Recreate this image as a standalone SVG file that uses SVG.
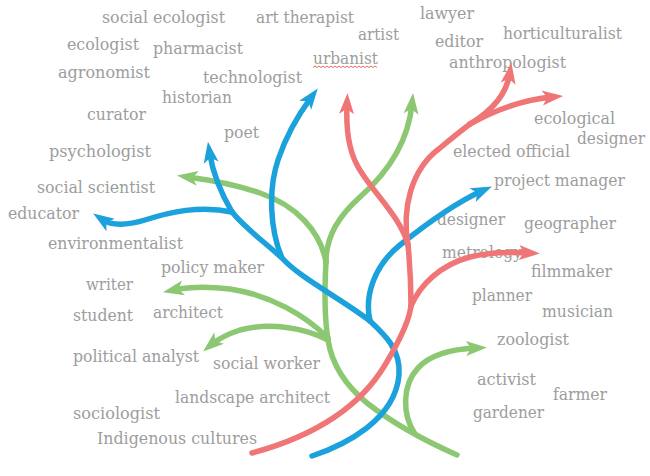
<svg xmlns="http://www.w3.org/2000/svg" width="650" height="476" viewBox="0 0 650 476">
<style>
text{font-family:"DejaVu Serif Condensed","DejaVu Serif",serif;font-size:16px;fill:#9d9d9d}
.ln{fill:none;stroke-width:5.5;stroke-linecap:round;stroke-linejoin:round}
.b{stroke:#1ba1db}.r{stroke:#f07577}.g{stroke:#8cc872}
</style>
<defs>
<marker id="ab" viewBox="-12 -12 24 24" markerWidth="24" markerHeight="24" refX="0" refY="0" orient="auto" markerUnits="userSpaceOnUse"><path d="M11,0 L-10,-7.5 L-5,0 L-10,7.5 Z" fill="#1ba1db"/></marker>
<marker id="ar" viewBox="-12 -12 24 24" markerWidth="24" markerHeight="24" refX="0" refY="0" orient="auto" markerUnits="userSpaceOnUse"><path d="M11,0 L-10,-7.5 L-5,0 L-10,7.5 Z" fill="#f07577"/></marker>
<marker id="ag" viewBox="-12 -12 24 24" markerWidth="24" markerHeight="24" refX="0" refY="0" orient="auto" markerUnits="userSpaceOnUse"><path d="M11,0 L-10,-7.5 L-5,0 L-10,7.5 Z" fill="#8cc872"/></marker>
</defs>
<g id="labels">
<text id="t-social-ecologist" x="102" y="23" textLength="123" lengthAdjust="spacingAndGlyphs">social ecologist</text>
<text id="t-art-therapist" x="256" y="23" textLength="98" lengthAdjust="spacingAndGlyphs">art therapist</text>
<text id="t-lawyer" x="420" y="19" textLength="54" lengthAdjust="spacingAndGlyphs">lawyer</text>
<text id="t-artist" x="358" y="40" textLength="41" lengthAdjust="spacingAndGlyphs">artist</text>
<text id="t-editor" x="435" y="47" textLength="48" lengthAdjust="spacingAndGlyphs">editor</text>
<text id="t-horticulturalist" x="503" y="39" textLength="119" lengthAdjust="spacingAndGlyphs">horticulturalist</text>
<text id="t-ecologist" x="67" y="50" textLength="72" lengthAdjust="spacingAndGlyphs">ecologist</text>
<text id="t-pharmacist" x="153" y="54" textLength="90" lengthAdjust="spacingAndGlyphs">pharmacist</text>
<text id="t-urbanist" x="313" y="64" textLength="65" lengthAdjust="spacingAndGlyphs">urbanist</text>
<path id="spell" d="M313,67.5 l2,-1.5 l2,1.5 l2,-1.5 l2,1.5 l2,-1.5 l2,1.5 l2,-1.5 l2,1.5 l2,-1.5 l2,1.5 l2,-1.5 l2,1.5 l2,-1.5 l2,1.5 l2,-1.5 l2,1.5 l2,-1.5 l2,1.5 l2,-1.5 l2,1.5 l2,-1.5 l2,1.5 l2,-1.5 l2,1.5 l2,-1.5 l2,1.5 l2,-1.5 l2,1.5 l2,-1.5 l2,1.5 l2,-1.5 l2,1.5" fill="none" stroke="#e8453c" stroke-width="0.8"/>
<text id="t-anthropologist" x="449" y="68" textLength="117" lengthAdjust="spacingAndGlyphs">anthropologist</text>
<text id="t-agronomist" x="58" y="78" textLength="92" lengthAdjust="spacingAndGlyphs">agronomist</text>
<text id="t-technologist" x="203" y="83" textLength="99" lengthAdjust="spacingAndGlyphs">technologist</text>
<text id="t-historian" x="162" y="103" textLength="70" lengthAdjust="spacingAndGlyphs">historian</text>
<text id="t-curator" x="87" y="120" textLength="59" lengthAdjust="spacingAndGlyphs">curator</text>
<text id="t-ecological" x="534" y="124" textLength="81" lengthAdjust="spacingAndGlyphs">ecological</text>
<text id="t-designer-2" x="577" y="144" textLength="68" lengthAdjust="spacingAndGlyphs">designer</text>
<text id="t-poet" x="224" y="138" textLength="35" lengthAdjust="spacingAndGlyphs">poet</text>
<text id="t-psychologist" x="49" y="157" textLength="102" lengthAdjust="spacingAndGlyphs">psychologist</text>
<text id="t-elected-official" x="453" y="157" textLength="117" lengthAdjust="spacingAndGlyphs">elected official</text>
<text id="t-project-manager" x="494" y="186" textLength="131" lengthAdjust="spacingAndGlyphs">project manager</text>
<text id="t-social-scientist" x="37" y="193" textLength="118" lengthAdjust="spacingAndGlyphs">social scientist</text>
<text id="t-educator" x="8" y="219" textLength="71" lengthAdjust="spacingAndGlyphs">educator</text>
<text id="t-designer" x="437" y="225" textLength="68" lengthAdjust="spacingAndGlyphs">designer</text>
<text id="t-geographer" x="524" y="229" textLength="92" lengthAdjust="spacingAndGlyphs">geographer</text>
<text id="t-environmentalist" x="48" y="249" textLength="135" lengthAdjust="spacingAndGlyphs">environmentalist</text>
<text id="t-metrology" x="442" y="258" textLength="80" lengthAdjust="spacingAndGlyphs">metrology</text>
<text id="t-policy-maker" x="161" y="273" textLength="103" lengthAdjust="spacingAndGlyphs">policy maker</text>
<text id="t-filmmaker" x="531" y="277" textLength="81" lengthAdjust="spacingAndGlyphs">filmmaker</text>
<text id="t-writer" x="86" y="290" textLength="47" lengthAdjust="spacingAndGlyphs">writer</text>
<text id="t-planner" x="472" y="301" textLength="60" lengthAdjust="spacingAndGlyphs">planner</text>
<text id="t-student" x="73" y="321" textLength="60" lengthAdjust="spacingAndGlyphs">student</text>
<text id="t-architect" x="153" y="318" textLength="70" lengthAdjust="spacingAndGlyphs">architect</text>
<text id="t-musician" x="542" y="317" textLength="71" lengthAdjust="spacingAndGlyphs">musician</text>
<text id="t-zoologist" x="497" y="345" textLength="72" lengthAdjust="spacingAndGlyphs">zoologist</text>
<text id="t-political-analyst" x="73" y="362" textLength="126" lengthAdjust="spacingAndGlyphs">political analyst</text>
<text id="t-social-worker" x="213" y="369" textLength="107" lengthAdjust="spacingAndGlyphs">social worker</text>
<text id="t-activist" x="477" y="385" textLength="59" lengthAdjust="spacingAndGlyphs">activist</text>
<text id="t-farmer" x="553" y="400" textLength="54" lengthAdjust="spacingAndGlyphs">farmer</text>
<text id="t-landscape-architect" x="175" y="403" textLength="155" lengthAdjust="spacingAndGlyphs">landscape architect</text>
<text id="t-sociologist" x="73" y="419" textLength="87" lengthAdjust="spacingAndGlyphs">sociologist</text>
<text id="t-gardener" x="473" y="418" textLength="71" lengthAdjust="spacingAndGlyphs">gardener</text>
<text id="t-indigenous-cultures" x="97" y="444" textLength="160" lengthAdjust="spacingAndGlyphs">Indigenous cultures</text>
</g>
<g id="connectors">
<g id="green-tree">
<path class="ln g" d="M457,455 C430,443 395,425 367,403 C345,385 332,365 328,340 C324,315 325,280 326,262"/>
<path class="ln g" d="M415,434 C402,415 402,385 418,368 C430,355 450,349 476,348" marker-end="url(#ag)"/>
<path class="ln g" d="M328,338 C305,315 270,295 230,289 C205,286 188,287 173.7,290" marker-end="url(#ag)"/>
<path class="ln g" d="M328,340 C305,328 270,322 240,330 C228,334 218,339 211.5,344.5" marker-end="url(#ag)"/>
<path class="ln g" d="M326,262 C326,235 340,215 360,197 C385,175 408,145 412,104" marker-end="url(#ag)"/>
<path class="ln g" d="M326,262 C320,230 295,205 260,193 C240,186 210,180 187.8,177" marker-end="url(#ag)"/>
</g>
<g id="blue-tree">
<path class="ln b" d="M312,456 C345,445 395,420 399,375 C401,350 385,335 370,321"/>
<path class="ln b" d="M370,321 C340,298 300,278 282,258 C262,240 245,228 232,212"/>
<path class="ln b" d="M282,258 C270,230 268,190 278,160 C286,136 298,115 311.2,97.3" marker-end="url(#ab)"/>
<path class="ln b" d="M232,212 C222,195 213,175 209.6,152.7" marker-end="url(#ab)"/>
<path class="ln b" d="M232,212 C200,205 170,212 145,220 C125,226 112,226 102.3,219.5" marker-end="url(#ab)"/>
<path class="ln b" d="M370,321 C364,295 375,265 400,245 C425,225 455,203 481.8,191" marker-end="url(#ab)"/>
</g>
<g id="red-tree">
<path class="ln r" d="M252,453 C300,440 355,415 385,365 C400,340 410,320 411,305"/>
<path class="ln r" d="M411,306 C420,285 440,265 470,257 C490,252 510,252 529,253" marker-end="url(#ar)"/>
<path class="ln r" d="M411,306 C411,285 410,265 408,245"/>
<path class="ln r" d="M408,245 C400,215 370,190 357,165 C348,148 346,125 347,104" marker-end="url(#ar)"/>
<path class="ln r" d="M408,245 C402,210 410,170 440,148 C452,138 462,130 470,124"/>
<path class="ln r" d="M470,124 C490,112 506,97 509.7,73.8" marker-end="url(#ar)"/>
<path class="ln r" d="M470,124 C495,110 520,100 552.2,97" marker-end="url(#ar)"/>
</g>
</g>
</svg>
